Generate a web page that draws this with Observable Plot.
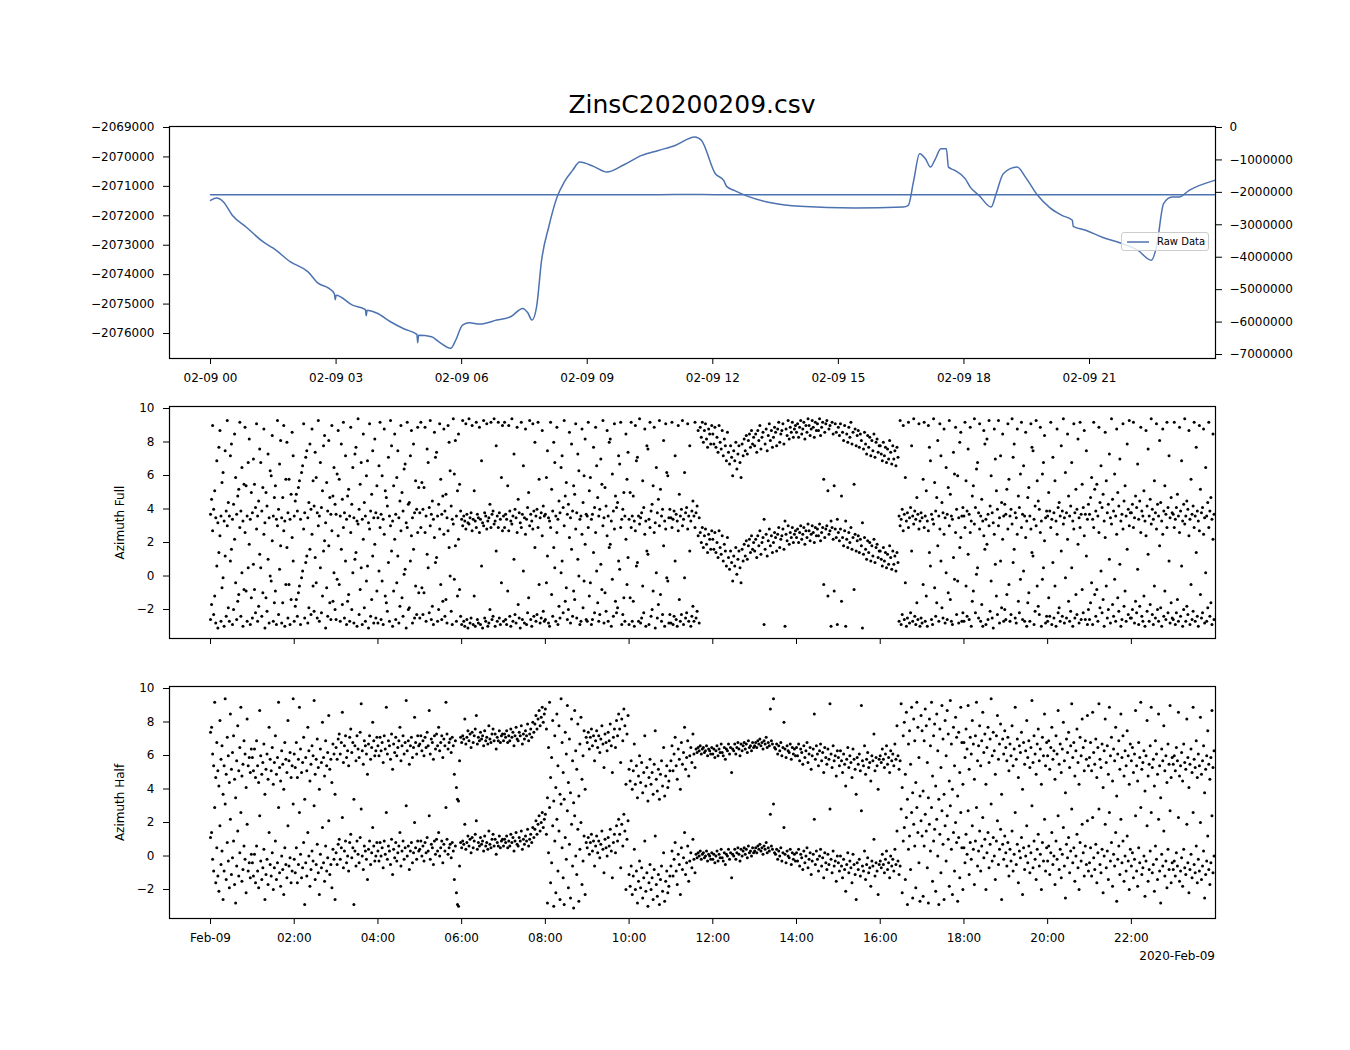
<!DOCTYPE html>
<html><head><meta charset="utf-8">
<script src="https://cdn.jsdelivr.net/npm/d3@7"></script>
<script src="https://cdn.jsdelivr.net/npm/@observablehq/plot@0.6"></script>
<style>
body{margin:0;background:#fff;}
#root{position:relative;width:1350px;height:1050px;background:#fff;font-family:"DejaVu Sans",sans-serif;color:#000;overflow:hidden;}
.abs{position:absolute;}
svg{display:block;overflow:visible;}
</style></head><body><div id="root"></div>
<script>
const title = "ZinsC20200209.csv";
const legendLabel = "Raw Data";
const offsetLabel = "2020-Feb-09";
const yLabelFull = "Azimuth Full";
const yLabelHalf = "Azimuth Half";

// top panel raw series (hours since 2020-02-09 00:00, value)
const rawHours = [0,0.15,0.31,0.52,0.85,1.26,1.5,1.91,2.33,2.57,2.82,2.96,2.98,3.0,3.39,3.7,3.72,3.74,3.97,4.3,
4.63,4.93,4.95,4.97,5.28,5.45,5.74,5.86,6.02,6.19,6.43,6.84,7.17,7.46,7.58,7.68,7.79,7.91,8.08,8.28,
8.45,8.65,8.82,9.15,9.47,9.88,10.3,10.7,11.1,11.57,11.73,12.06,12.26,12.33,12.51,12.84,13.42,14.08,15.39,16.55,
16.67,16.8,16.94,17.08,17.2,17.3,17.45,17.58,17.63,17.78,18.03,18.15,18.36,18.65,18.77,18.94,19.27,19.47,19.76,20.05,
20.34,20.59,20.61,20.91,21.32,21.74,22.15,22.48,22.6,22.77,22.97,23.14,23.38,23.99];
const rawValues = [-2071475,-2071397,-2071532,-2071983,-2072380,-2072888,-2073102,-2073566,-2073905,-2074288,-2074458,-2074650,-2074850,-2074700,-2075034,-2075190,-2075400,-2075210,-2075305,-2075600,
-2075848,-2076030,-2076312,-2076060,-2076109,-2076278,-2076502,-2076221,-2075712,-2075634,-2075678,-2075543,-2075431,-2075146,-2075295,-2075543,-2075092,-2073509,-2072380,-2071363,
-2070854,-2070458,-2070176,-2070322,-2070515,-2070264,-2069949,-2069780,-2069610,-2069322,-2069441,-2070570,-2070797,-2071000,-2071136,-2071339,-2071566,-2071678,-2071736,-2071702,
-2071644,-2070797,-2069892,-2070061,-2070346,-2070119,-2069722,-2069722,-2070346,-2070458,-2070739,-2071024,-2071305,-2071702,-2071248,-2070570,-2070346,-2070685,-2071305,-2071722,
-2071983,-2072153,-2072356,-2072492,-2072739,-2072922,-2073170,-2073509,-2073058,-2071587,-2071363,-2071363,-2071136,-2070797];

const leftTicks = [-2069000,-2070000,-2071000,-2072000,-2073000,-2074000,-2075000,-2076000];
const rightTicks = [0,-1000000,-2000000,-3000000,-4000000,-5000000,-6000000,-7000000];
const topTickHours = [0,3,6,9,12,15,18,21];
const azTickHours = [0,2,4,6,8,10,12,14,16,18,20,22];
const azTicks = [-2,0,2,4,6,8,10];

// azimuth samples, one every 90 s from 00:00 (40 per hour), radians in [-pi, pi]
const azFull = [
-2.6,-1.7,2.7,-2.3,-1.2,-2.8,0.6,-3.1,1.4,2.4,-2.7,-0.7,-0.1,-3.0,1.2,-2.4,3.0,-1.9,-2.7,0.9,1.6,-2.9,-2.0,2.2,-0.4,-2.6,-1.5,-1.1,2.9,-2.4,0.2,-3.0,-0.8,2.6,-0.9,-2.7,0.5,1.9,-2.9,-1.3,
-2.5,0.7,-0.8,-2.2,2.8,-2.7,-1.8,1.3,0.5,-2.4,-1.0,2.5,-3.1,-1.3,-2.1,1.0,-2.8,0.0,-0.3,2.1,-2.7,-1.6,-0.9,-2.9,3.0,-2.3,0.4,1.8,-2.8,-1.6,2.7,-3.0,-0.5,1.7,-2.5,-0.5,-2.9,-1.4,2.3,0.9,
-2.7,-1.8,-1.4,-2.4,-1.0,-0.6,-2.9,-0.1,0.3,2.8,-2.5,0.8,1.2,-2.8,-1.9,1.6,-2.3,2.5,-0.6,-2.1,1.1,-0.4,-2.5,3.0,-2.7,0.5,-2.2,-1.2,1.5,2.1,-3.1,-0.7,-2.4,1.8,-1.6,-2.6,2.7,-1.5,0.2,-2.0,
-2.6,-0.2,2.4,-0.5,-2.7,1.6,-1.7,2.9,-2.5,0.9,-2.9,-1.5,-1.1,-2.7,2.6,-2.0,0.2,-2.8,1.0,1.4,-3.0,3.1,-2.3,-0.8,0.5,-2.9,2.2,-1.9,-2.7,-0.3,0.6,-3.1,2.8,-2.4,-1.4,1.2,-2.8,1.9,-2.5,-0.9,
-2.8,0.3,2.9,-2.6,-0.3,-2.9,2.5,-1.2,-1.6,-2.1,0.8,-2.7,3.0,1.5,-3.0,-0.9,2.2,-2.6,-0.4,1.2,-2.8,-1.8,2.7,-1.3,-2.4,0.1,0.4,-3.1,2.9,-2.0,-1.9,0.9,2.4,-2.8,1.6,-2.5,-0.6,-2.3,2.6,-1.0,
-2.5,2.9,-0.7,-2.3,-1.0,2.6,-2.7,1.3,0.5,-2.2,3.0,-2.6,-1.8,-2.9,2.3,0.8,1.1,-2.7,-2.0,2.8,-0.5,-2.6,-1.5,2.5,-2.4,-1.4,-2.8,2.7,1.7,0.0,-2.1,-2.9,3.1,-0.2,1.8,-2.7,-1.2,2.2,-0.8,-2.4,
-2.9,3.0,-2.7,-3.0,2.8,-2.6,-3.1,3.1,-2.8,-2.5,2.7,-2.9,-1.2,-3.0,2.9,-2.6,-2.8,2.6,-2.9,0.6,-3.1,3.0,-2.5,-2.7,2.8,-3.0,-2.8,-2.0,2.9,-2.6,-2.4,3.1,-3.0,1.5,-2.7,2.9,-2.5,-2.9,-0.4,2.7,
-2.7,2.9,-2.6,-2.9,-0.9,2.7,-2.4,-3.0,3.1,-2.7,1.0,-2.3,-2.8,2.6,-1.7,-2.5,-3.1,2.9,-2.6,0.3,-2.8,2.5,-2.9,-2.2,-1.3,3.0,-2.6,-3.0,2.8,-2.4,1.7,-2.7,-2.3,2.9,-0.5,-2.8,-2.5,2.4,-2.1,-2.7,
-2.6,-0.4,1.2,-2.8,-3.0,2.9,-1.1,-2.4,1.7,0.5,-2.7,2.6,-2.9,-1.8,-2.5,0.2,0.9,-2.2,3.0,-1.5,-0.7,-2.6,-2.0,2.3,-2.8,1.6,-2.4,-0.9,-1.4,2.8,-2.5,1.0,0.0,-2.9,-2.7,2.5,-1.9,-0.3,1.9,-2.6,
-2.7,2.9,-1.2,-0.4,-2.9,-2.6,1.4,-2.2,2.6,0.3,-1.6,-2.7,-2.3,0.7,-0.8,3.0,-2.8,-1.0,-2.1,2.4,-2.7,1.7,1.9,-3.0,-0.2,-2.4,2.8,-1.5,-2.2,-1.9,0.9,0.4,2.9,-2.9,-2.3,-1.3,-2.7,2.2,-0.5,1.1,
-2.9,-1.3,2.9,-2.7,-1.5,-3.0,2.7,0.6,0.8,-2.7,3.1,-2.8,-2.5,-0.6,-2.2,2.5,-3.0,1.5,1.3,-2.9,2.9,-2.4,-2.0,-0.9,2.6,-3.1,0.2,-2.5,-1.7,3.0,-1.1,-2.7,-2.3,1.8,-3.0,2.8,-0.1,-0.3,-2.8,-2.3,
-2.8,2.9,-2.9,-2.4,0.9,-2.6,-3.0,2.7,-1.4,-2.7,-2.3,3.0,-2.9,-0.1,-2.5,-2.2,2.8,-2.7,1.5,-3.0,-2.4,-1.8,-2.7,2.9,-2.5,-2.1,2.4,-2.8,2.6,2.0,2.9,1.7,2.4,2.8,1.9,1.4,2.5,2.2,1.6,2.7,
2.2,1.6,2.6,1.4,2.0,1.1,2.7,1.7,1.3,2.4,0.9,1.9,1.5,0.6,2.3,1.1,0.4,1.5,0.8,-0.3,1.2,0.6,1.7,0.1,1.0,1.5,0.5,-0.4,1.6,0.9,1.9,1.2,2.1,1.0,1.8,2.2,1.4,2.4,1.6,2.0,
1.5,2.2,1.1,2.4,1.8,2.7,1.3,2.0,2.3,-2.9,1.6,2.5,1.2,2.1,2.8,1.8,2.4,1.4,2.0,2.6,2.3,1.5,2.5,2.9,1.7,2.2,2.4,2.8,1.6,-3.0,2.5,2.1,3.0,1.9,2.6,2.3,2.9,2.0,2.5,2.7,
2.3,2.8,2.0,2.6,3.0,2.2,2.5,2.9,1.9,2.7,2.3,3.1,2.7,2.1,2.5,3.0,2.6,2.0,2.9,2.4,2.8,2.4,3.1,2.1,2.6,2.9,-0.5,2.3,2.8,3.0,-1.2,2.5,2.7,-3.0,2.9,2.2,-0.9,2.8,2.3,-2.9,
2.6,2.1,2.8,-1.5,2.3,1.8,2.7,-3.0,2.2,1.7,2.6,2.0,2.9,1.6,2.3,-0.8,2.5,1.5,2.1,2.4,1.4,2.2,1.8,-3.1,1.3,2.3,1.6,1.0,2.1,1.4,2.0,0.9,1.8,1.2,2.2,0.8,1.7,1.9,1.1,1.5,
1.5,1.0,0.6,1.7,0.9,1.4,0.5,1.3,0.7,1.8,1.1,0.4,1.5,0.7,1.2,0.3,1.4,0.8,-2.7,3.0,-2.9,-2.3,2.7,-2.6,-0.4,-3.0,-2.5,2.9,-2.8,-2.2,1.5,-2.7,3.1,-2.4,-2.9,-1.6,-2.6,2.8,-3.0,-2.5,
-2.8,-0.5,2.9,-2.7,-1.2,-3.0,2.7,1.4,0.6,-2.6,-2.9,3.1,-0.7,-2.4,-1.6,1.8,-2.7,2.8,0.9,-1.9,-2.5,2.5,-2.8,0.2,-2.6,-1.0,3.0,-1.4,-2.7,-2.9,1.1,-0.2,2.6,-2.3,-0.3,-2.8,1.7,2.3,-2.7,-2.2,
-2.7,2.9,-0.6,-2.4,1.3,-2.6,2.6,-3.0,-1.5,-0.9,3.1,-2.2,0.1,0.5,-2.5,2.8,-2.7,-1.7,-3.0,2.4,1.6,-2.9,1.9,-2.6,3.0,-2.1,-0.3,-2.5,-3.1,2.5,0.7,-1.2,-2.3,3.0,-2.8,0.9,-1.9,2.2,-2.7,-2.0,
-2.6,-1.1,2.8,-0.5,-2.7,-2.3,3.1,0.8,1.6,-2.5,-2.8,2.5,-1.5,-2.2,-0.2,2.9,-2.6,0.3,-2.7,2.3,-3.0,-1.6,-1.0,-2.7,2.8,1.4,1.2,-2.9,-2.1,3.0,-0.6,-1.8,-2.3,2.6,-3.0,-0.2,0.5,2.1,-2.8,-2.4,
-2.7,-1.3,-2.4,2.9,-2.9,0.8,-2.5,-0.6,-3.0,2.5,-2.2,-1.9,-2.7,1.5,-2.4,3.1,-2.8,-0.1,-2.5,2.2,-1.5,-2.7,-2.1,0.5,-3.0,2.8,-2.5,-1.1,-2.3,1.9,-2.8,2.9,-2.6,-0.8,-2.2,2.4,-2.6,1.2,-2.9,-2.0,
-2.6,-1.6,-0.4,-2.9,2.9,-1.1,-2.4,-0.8,-2.7,2.6,-1.9,0.3,-2.2,-1.4,-3.0,2.3,-0.6,-2.5,-2.0,1.0,-2.8,3.1,-1.7,-2.4,-0.2,-2.7,2.5,-1.3,-2.1,0.7,-3.0,-2.6,2.8,-1.8,-0.9,-2.7,1.6,-2.3,3.0,-2.5,
-2.5,-2.0,2.9,-2.8,-1.5,-2.2,0.4,-2.9,-1.8,2.6,-2.4,-2.7,-1.2,-3.0,2.4,-2.1,1.3,-2.7,-1.7,3.1,-2.3,-2.9,-0.6,-2.5,2.8,-2.0,-2.7,1.8,-1.9,-3.0,2.5,-2.4,-0.9,-2.6,2.9,-2.2,0.9,-2.8,-1.6,-2.5,
-2.6,2.9,-2.9,-2.2,-1.4,-2.7,2.6,-2.4,0.6,-3.0,-2.0,3.1,-2.7,-1.8,-2.3,2.4,-2.9,-0.5,-2.6,-2.1,2.9,-2.7,1.4,-2.4,-3.0,2.7,-1.1,-2.5,-2.2,2.5,-2.8,0.2,-2.7,-1.9,2.9,-2.4,-1.6,-2.9,2.2,-2.6];

const azHalf = [
1.1,1.4,-0.2,-0.9,2.9,-1.6,0.5,-1.2,-2.1,1.8,-0.5,0.3,-2.6,-0.9,3.1,-1.4,0.8,-0.3,-1.9,2.2,-1.1,-0.1,0.9,-1.7,-2.8,-0.6,1.5,-1.2,0.2,2.6,-1.5,-0.8,0.6,-0.2,-2.2,1.9,-0.9,-0.4,-1.3,0.1,
-0.4,-1.2,0.1,-1.6,0.6,-0.9,-1.9,2.4,-0.3,-1.4,-0.7,0.4,-2.6,-1.1,-0.2,-1.7,1.4,-0.5,-1.2,0.2,-2.0,-0.7,0.9,-1.4,-0.4,2.9,-1.0,-1.8,0.0,-0.8,-2.3,0.5,-0.5,-1.3,1.8,-0.6,-0.1,-1.6,-0.9,3.1,
-0.2,-1.0,0.5,-1.6,-0.5,2.6,0.1,-1.3,-0.7,0.8,-2.9,-0.4,-1.2,1.4,0.0,-1.8,-0.8,0.3,-0.3,3.0,-1.4,-0.5,0.7,-1.0,-2.3,0.1,-0.7,1.7,-0.4,-1.5,0.6,-0.9,-0.1,2.1,-1.1,-0.5,-1.9,0.4,-0.2,-2.6,
0.2,-0.5,0.7,1.0,-0.2,0.5,2.3,-0.7,0.3,0.9,-0.4,0.0,-0.9,0.8,1.3,-0.1,0.5,-2.9,0.3,-0.6,0.9,0.1,-0.4,1.1,2.8,0.0,-0.8,0.6,0.3,-0.2,-1.4,0.4,0.9,-0.5,0.2,1.7,0.6,-0.3,0.0,0.8,
0.3,-0.3,0.8,0.0,0.5,-0.7,0.9,0.1,2.6,-0.2,0.6,0.3,-0.5,1.0,-1.1,0.4,-0.1,0.8,-0.3,0.2,0.6,1.4,-0.6,0.3,0.9,-0.2,0.5,3.0,0.0,0.6,-0.8,0.3,0.8,-0.4,0.2,2.0,0.5,-0.2,0.9,0.3,
0.4,0.9,0.0,0.6,-0.3,0.8,0.2,1.1,0.3,2.4,-0.2,0.7,0.5,-0.5,0.9,0.1,1.0,0.3,1.4,0.0,0.5,0.9,-0.4,0.7,0.3,2.9,1.0,0.1,0.5,0.7,-0.1,0.8,0.3,-1.4,0.6,-2.2,-2.9,-3.0,-0.6,0.8,
0.5,0.9,0.7,1.9,0.4,0.8,1.2,0.6,1.0,0.2,1.1,0.5,0.9,1.3,2.1,0.4,0.8,0.6,1.1,0.7,0.9,0.3,1.2,0.6,0.8,0.4,1.5,0.7,0.5,1.0,1.3,0.6,1.0,0.1,0.8,0.6,1.2,0.5,0.9,1.0,
0.6,1.0,0.8,1.2,0.5,0.9,0.6,1.3,0.8,1.1,0.3,0.9,1.4,0.7,0.6,1.1,0.9,1.5,0.4,1.0,0.7,1.2,0.9,1.6,0.6,1.0,1.3,0.8,1.7,1.1,1.6,2.1,1.3,1.9,2.4,1.5,2.0,2.6,1.7,2.2,
2.5,1.3,-2.8,0.2,2.9,-1.6,-0.4,1.8,-3.0,0.9,-2.2,2.2,-0.9,1.5,-2.6,3.1,0.5,-1.3,-2.9,1.1,-0.2,2.7,-1.9,0.7,-2.5,1.9,-0.6,-3.1,2.4,0.0,-1.1,1.6,-2.7,0.4,2.0,-1.7,-0.3,1.2,-2.3,0.8,
0.5,1.1,0.1,0.8,1.3,0.3,0.9,-0.6,0.6,1.2,0.2,0.9,-0.1,0.7,1.5,0.4,-1.0,1.0,0.5,0.0,1.1,0.6,1.6,0.3,-1.3,0.8,1.3,0.2,1.8,0.9,2.2,1.3,-0.7,1.9,0.6,2.5,1.5,-2.0,1.0,2.1,
-1.1,-1.8,-0.6,-2.3,-1.2,0.4,-2.0,-0.9,-2.8,-1.5,-0.3,-1.9,-0.7,-2.5,-1.3,0.9,-2.1,-1.0,-3.0,-1.6,-0.5,-2.0,-1.3,-2.6,-0.8,1.2,-1.7,-2.4,-1.1,-2.9,-1.4,-0.6,-2.1,0.2,-2.7,-1.5,-0.9,-2.2,-1.8,-1.2,
-0.6,0.3,-1.2,-0.2,0.8,-0.9,-1.7,0.1,-0.5,-2.3,0.5,-0.8,-0.1,1.4,-1.1,-0.4,0.6,-1.5,-0.3,0.2,-0.7,1.0,-0.2,-1.0,0.1,-0.1,0.2,0.0,0.3,-0.2,0.1,0.2,-0.1,0.0,0.3,-0.3,0.1,0.0,-0.2,0.2,
-0.2,0.1,-0.4,0.0,0.3,-0.3,0.1,-0.1,0.4,-0.1,-0.3,0.2,-0.5,0.1,0.0,0.4,-0.2,0.2,-1.3,0.1,0.0,0.4,-0.2,0.2,0.5,0.1,-0.3,0.4,0.0,0.3,0.5,0.1,0.4,-0.1,0.6,0.2,0.3,0.0,0.5,0.2,
0.3,0.5,0.2,0.6,0.4,0.7,0.3,0.5,0.1,0.6,0.4,0.8,0.2,0.5,0.3,2.5,0.6,0.4,3.1,0.2,0.1,0.4,-0.2,0.3,0.0,0.5,-0.3,0.2,1.7,0.1,-0.4,0.3,0.0,-0.1,0.4,-0.5,0.2,-0.2,0.1,-0.3,
0.2,-0.3,0.4,-0.6,0.1,-0.1,-0.8,0.3,-0.4,0.0,0.5,-0.7,-0.2,0.2,-1.1,-0.3,0.1,2.2,-0.5,0.3,-0.2,-0.9,0.0,0.4,-0.6,-0.1,-1.3,0.2,-0.4,-0.8,0.1,-0.5,2.8,-0.2,-1.0,0.3,-0.6,-0.3,-1.5,0.0,
-0.4,-0.9,0.0,-0.6,-1.3,-0.2,-0.8,-2.1,-0.5,0.2,-1.0,-0.3,-0.7,-1.6,0.1,-0.5,-1.1,-2.6,-0.4,-0.8,-0.2,-1.2,2.7,-0.6,-0.9,0.3,-1.4,-0.5,-0.1,-1.0,-0.7,-1.8,-0.3,-0.6,1.0,-1.2,-0.4,-0.9,-2.3,-0.5,
-0.3,-0.7,0.1,-0.5,-1.0,-0.2,0.3,-0.8,-0.4,-1.3,0.0,-0.6,-0.2,-0.9,0.4,-0.5,1.5,-0.3,-1.1,-0.6,2.8,-2.2,0.9,1.7,-1.4,2.3,-2.9,0.4,1.2,-0.8,2.6,-2.5,1.9,0.6,-1.9,2.9,1.4,-0.4,-2.7,2.1,
1.2,-2.4,0.6,2.5,1.5,-0.7,-2.8,1.9,0.3,2.9,-1.5,0.9,1.6,-2.1,2.2,0.0,-2.9,1.3,-1.0,2.7,0.7,-2.6,1.8,-0.3,2.4,1.0,-1.8,3.0,0.4,-2.3,1.4,-0.9,2.0,0.8,-2.7,1.1,-1.3,2.6,0.5,-2.0,
0.5,-0.4,1.3,0.1,2.7,-1.1,0.8,-0.2,1.8,0.4,-1.7,0.9,2.9,-0.6,0.3,1.5,-0.9,0.6,2.3,-0.1,1.0,-2.0,0.2,1.4,-0.7,0.7,3.1,-0.3,1.1,0.0,-1.4,0.9,2.1,-0.5,0.4,1.6,-2.6,0.7,-0.2,1.2,
0.2,-0.6,0.8,-1.2,0.4,-0.3,1.5,-0.9,0.1,2.6,-0.5,0.7,-1.6,0.3,-0.1,1.1,-2.3,0.5,-0.8,0.0,1.8,-0.4,0.6,-1.0,0.2,3.0,-0.7,0.9,-0.2,-1.4,0.4,1.3,-0.6,0.1,-2.0,0.8,-0.3,2.2,-0.9,0.5,
-0.3,0.6,-1.1,0.2,1.4,-0.5,0.0,-1.7,0.9,-0.2,2.4,-0.8,0.4,-1.3,0.1,1.7,-0.6,-2.5,0.7,-0.1,1.1,-1.0,0.3,2.8,-0.4,0.5,-1.5,0.0,1.3,-0.7,-2.0,0.8,-0.3,1.9,0.2,-1.2,0.6,-0.5,2.1,-0.9,
-0.4,0.5,-1.2,2.3,-0.1,-0.8,0.7,-1.6,0.2,2.8,-0.5,-1.0,0.4,-2.2,0.0,1.9,-0.7,0.3,-1.4,2.6,-0.3,0.8,-1.8,0.1,-0.6,1.4,-2.7,-0.2,0.6,-1.1,2.2,-0.4,0.9,-1.5,0.0,-0.9,1.2,-0.3,-2.0,0.4,
-0.6,0.2,-1.3,-0.2,2.4,-0.9,-1.8,0.5,-0.4,2.9,-1.1,-0.7,0.0,-2.4,-0.3,1.8,-1.5,-0.8,0.3,2.6,-1.0,-0.5,-2.1,0.6,-0.2,-1.4,2.2,-0.9,-2.8,0.1,-0.6,1.5,-1.2,-0.3,-1.9,0.4,-0.8,2.7,-1.6,-0.4,
-0.8,-0.3,-1.2,0.2,-0.6,2.3,-1.5,-0.9,-0.1,-1.8,0.4,-0.7,-1.1,1.9,-0.4,-2.2,-0.8,0.1,-1.3,2.6,-0.5,-1.0,0.6,-1.6,-0.2,-0.9,2.0,-1.4,-0.6,0.3,-2.5,-1.1,-0.3,1.2,-0.8,-1.7,-0.4,2.4,-1.0,0.0];

const sampleSeconds = 90;
const dayStart = Date.UTC(2020, 1, 9);
const T = h => new Date(dayStart + h * 3600e3);
const xDomain = [T(-0.98), T(24.01)];
const TAU = 2 * Math.PI;

const rawData = rawHours.map((h, i) => ({t: T(h), v: rawValues[i]}));
const wrap = arr => arr.flatMap((a, i) => {
  const t = new Date(dayStart + i * sampleSeconds * 1000);
  return [{t, v: a}, {t, v: a + TAU}];
});
const fullData = wrap(azFull);
const halfData = wrap(azHalf);

const FONT = "DejaVu Sans";
const baseStyle = {fontFamily: FONT, fontSize: "12px", color: "black", background: "transparent", overflow: "visible"};
const W = 1350, ML = 169, MR = 135;
const root = document.getElementById("root");
function place(node, left, top) {
  const d = document.createElement("div");
  d.className = "abs"; d.style.left = left + "px"; d.style.top = top + "px";
  d.appendChild(node); root.appendChild(d); return d;
}

// Title
const tdiv = document.createElement("div");
tdiv.textContent = title;
Object.assign(tdiv.style, {position: "absolute", left: ML + "px", width: (W - ML - MR) + "px", top: "90px", textAlign: "center", fontSize: "25px", lineHeight: "30px", fontFamily: FONT});
root.appendChild(tdiv);

// Top panel (left axis)
const topPlot = Plot.plot({
  width: W, height: 298, marginTop: 26, marginBottom: 40, marginLeft: ML, marginRight: MR,
  style: baseStyle,
  x: {type: "utc", domain: xDomain},
  y: {domain: [-2076849, -2068966]},
  marks: [
    Plot.line(rawData, {x: "t", y: "v", stroke: "#4c72b0", strokeWidth: 1.5, curve: "monotone-x"}),
    Plot.frame({stroke: "black", strokeWidth: 1.2}),
    Plot.axisX({ticks: topTickHours.map(T), tickFormat: d3.utcFormat("%m-%d %H"), tickSize: 6, tickPadding: 9, label: null}),
    Plot.axisY({ticks: leftTicks, tickFormat: d3.format("d"), tickSize: 6, tickPadding: 9, label: null})
  ]
});
place(topPlot, 0, 100);

// Top panel right axis (same data on a wide secondary scale)
const rightPlot = Plot.plot({
  width: W, height: 298, marginTop: 26, marginBottom: 40, marginLeft: ML, marginRight: MR,
  style: baseStyle,
  x: {type: "utc", domain: xDomain, axis: null},
  y: {domain: [-7123000, 31000]},
  marks: [
    Plot.line(rawData, {x: "t", y: "v", stroke: "#4c72b0", strokeWidth: 1.5}),
    Plot.axisY({anchor: "right", ticks: rightTicks, tickFormat: d3.format("d"), tickSize: 6, tickPadding: 8, label: null})
  ]
});
place(rightPlot, 0, 100);

// Legend
const leg = document.createElement("div");
Object.assign(leg.style, {position: "absolute", left: "1121px", top: "232px", width: "86px", height: "17px", border: "1px solid #cccccc", borderRadius: "3px", background: "rgba(255,255,255,0.8)", fontFamily: FONT, fontSize: "10px", lineHeight: "17px", whiteSpace: "nowrap"});
leg.innerHTML = '<svg width="24" height="17" style="display:inline-block;vertical-align:top;margin-left:4px"><line x1="1" x2="23" y1="9" y2="9" stroke="#4c72b0" stroke-width="1.5"/></svg><span style="margin-left:7px">' + legendLabel + '</span>';
root.appendChild(leg);

function azPlot(data, label, showLabels) {
  return Plot.plot({
    width: W, height: showLabels ? 298 : 278, marginTop: 26, marginBottom: showLabels ? 40 : 20, marginLeft: ML, marginRight: MR,
    style: baseStyle,
    x: {type: "utc", domain: xDomain},
    y: {domain: [-3.73, 10.12]},
    marks: [
      Plot.dot(data, {x: "t", y: "v", r: 1.5, fill: "black", stroke: null}),
      Plot.frame({stroke: "black", strokeWidth: 1.2}),
      Plot.axisX({ticks: azTickHours.map(T), tickSize: 6, tickPadding: 9, label: null,
        tickFormat: showLabels ? (d => d.getUTCHours() === 0 ? d3.utcFormat("%b-%d")(d) : d3.utcFormat("%H:%M")(d)) : (() => "")}),
      Plot.axisY({ticks: azTicks, tickFormat: d3.format("d"), tickSize: 6, tickPadding: 9,
        label, labelAnchor: "center", labelArrow: "none", labelOffset: 54})
    ]
  });
}
place(azPlot(fullData, yLabelFull, false), 0, 380);
place(azPlot(halfData, yLabelHalf, true), 0, 660);

// date offset label
const off = document.createElement("div");
off.textContent = offsetLabel;
Object.assign(off.style, {position: "absolute", right: (W - 1215) + "px", top: "949px", fontSize: "12px", lineHeight: "14px", fontFamily: FONT});
root.appendChild(off);
</script></body></html>
